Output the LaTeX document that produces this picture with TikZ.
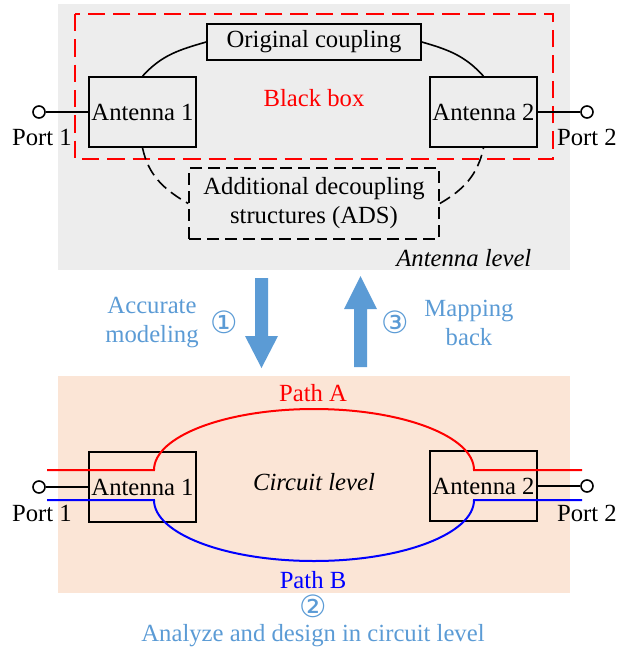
\documentclass[tikz,border=0pt]{standalone}
\usepackage{fontspec}
\setmainfont{Liberation Serif}
\newfontfamily\symfont{DejaVu Sans}
\definecolor{lblue}{HTML}{5B9BD5}
\definecolor{bggray}{HTML}{EDEDED}
\definecolor{peach}{HTML}{FBE5D6}
\definecolor{pathred}{HTML}{FF0000}
\definecolor{pathblue}{HTML}{0000FF}
\begin{document}
\begin{tikzpicture}[x=0.75pt,y=-0.75pt,
  font=\fontsize{18.5}{21.75}\selectfont,
  box/.style={draw, line width=1.2pt, inner sep=0pt, minimum width=80.25pt, minimum height=52.5pt},
  port/.style={circle, draw, fill=white, line width=1.2pt, minimum size=9pt, inner sep=0pt},
  wire/.style={line width=1.2pt},
  dashwire/.style={line width=1.2pt, dash pattern=on 9pt off 4.5pt},
  lbl/.style={text=lblue, align=center},
  circnum/.style={text=lblue, font=\symfont\fontsize{23}{26}\selectfont, inner sep=0pt},
  pathline/.style={line width=1.5pt}]
\useasboundingbox (0,0) rectangle (620,647);

% ---------- antenna level ----------
\fill[bggray] (58,4) rectangle (570,270);
\draw[pathred, line width=1.5pt, dash pattern=on 13pt off 6pt] (75,14) rectangle (553,159);

\node[box] (ant1) at (142.5,112) {Antenna 1};
\node[box] (ant2) at (483.5,112) {Antenna 2};
\node[draw, line width=1.2pt, inner sep=0pt, minimum width=160.5pt, minimum height=27pt] (coup) at (314,42) {Original coupling};
\node[draw, dashwire, inner sep=0pt, minimum width=187.5pt, minimum height=53.25pt, align=center] (ads) at (314,203.5) {Additional decoupling\\structures (ADS)};

\draw[wire] (ant1.north) to[out=48,in=196] (coup.west);
\draw[wire] (coup.east) to[out=-16,in=132] (ant2.north);
\draw[dashwire] (ant1.south) to[out=-78,in=150] (ads.west);
\draw[dashwire] (ads.east) to[out=30,in=-102] (ant2.south);

\node[port] (p1) at (39,112) {};
\node[port] (p2) at (587,112) {};
\draw[wire] (p1) -- (ant1.west);
\draw[wire] (ant2.east) -- (p2);
\node (p1t) at (42,137) {Port 1};
\node (p2t) at (587,137) {Port 2};
\node[text=pathred] (bb) at (314,98) {Black box};
\node[anchor=east, font=\fontsize{18.5}{21.75}\selectfont\itshape] (alev) at (536,258) {Antenna level};

% ---------- arrows ----------
\fill[lblue] (255,278) -- (268,278) -- (268,336) -- (278,336) -- (261.5,368) -- (245,336) -- (255,336) -- cycle;
\fill[lblue] (354,367) -- (367,367) -- (367,309) -- (377,309) -- (360.5,276) -- (344,309) -- (354,309) -- cycle;
\node[lbl] (acc) at (152,322.5) {Accurate\\modeling};
\node[circnum] (n1) at (224,322) {①};
\node[circnum] (n3) at (395,322) {③};
\node[lbl] (map) at (469,322.5) {Mapping\\back};

% ---------- circuit level ----------
\fill[peach] (58,376) rectangle (570,593);
\node[box] (cant1) at (142.5,487) {Antenna 1};
\node[box] (cant2) at (483.5,486) {Antenna 2};

\coordinate (ra) at (47,470);
\coordinate (rb) at (154,470);
\coordinate (rc) at (582,470);
\coordinate (ba) at (47,500);
\coordinate (bb2) at (154,500);
\coordinate (bc) at (582,500);
\draw[pathline, pathred] (ra) -- (rb) arc[start angle=180, end angle=0, x radius=120pt, y radius=45.75pt] -- (rc);
\draw[pathline, pathblue] (ba) -- (bb2) arc[start angle=180, end angle=360, x radius=120pt, y radius=45.75pt] -- (bc);

\node[port] (p3) at (39,487) {};
\node[port] (p4) at (587,486) {};
\draw[wire] (p3) -- (cant1.west);
\draw[wire] (cant2.east) -- (p4);
\node (p3t) at (42,513) {Port 1};
\node (p4t) at (587,513) {Port 2};
\node[font=\fontsize{18.5}{21.75}\selectfont\itshape] (clev) at (314,482) {Circuit level};
\node[text=pathred] (pa) at (313,393) {Path A};
\node[text=pathblue] (pb) at (313,580) {Path B};
\node[circnum, anchor=base, text depth=0pt] (n2) at (313,617) {②};
\node[lbl, anchor=base, inner sep=0pt, text height=0.68em] (ana) at (313,641) {Analyze and design in circuit level};
\end{tikzpicture}
\end{document}
